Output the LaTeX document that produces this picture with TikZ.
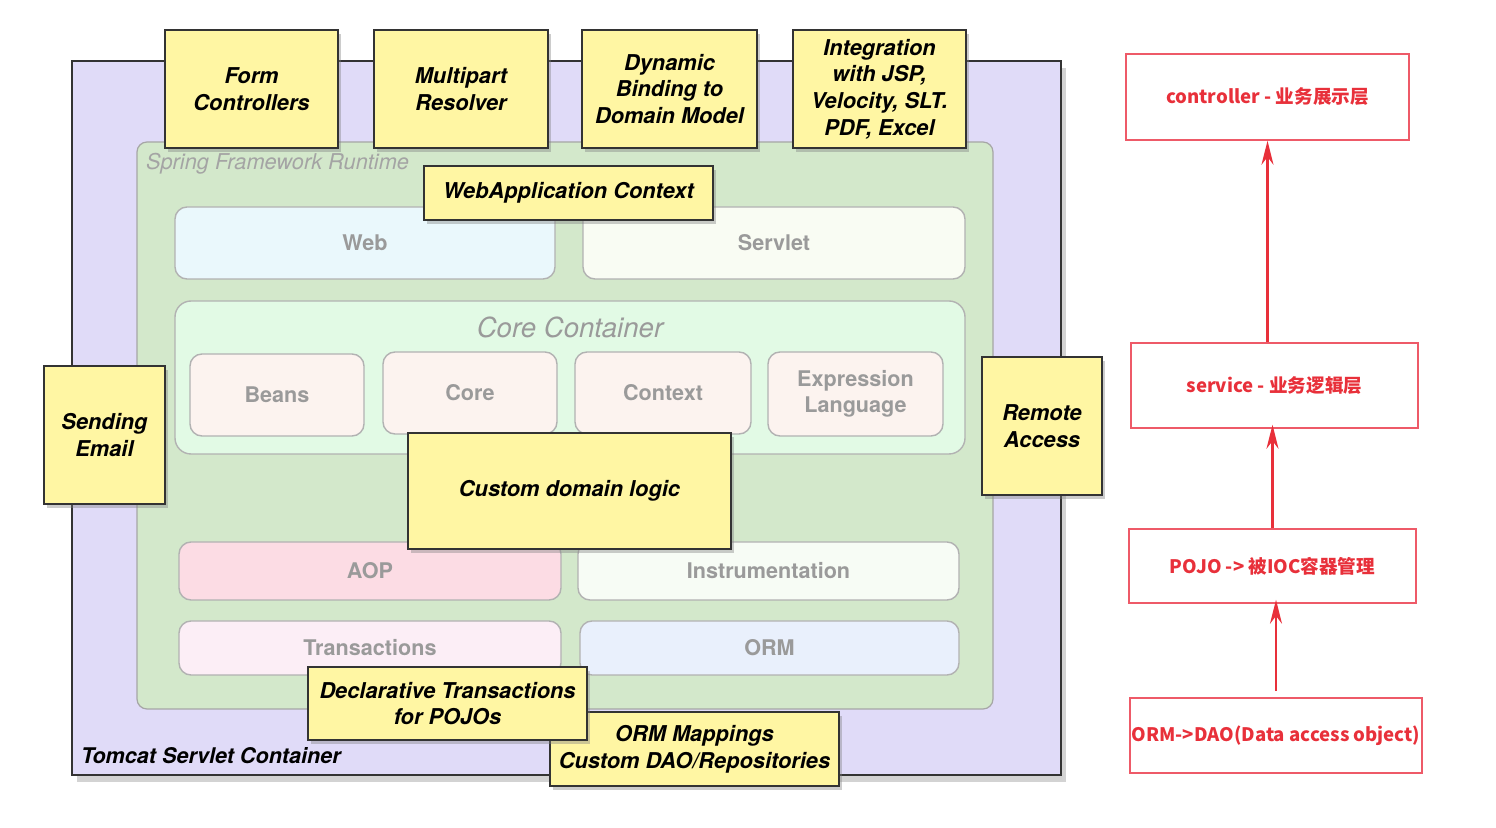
\documentclass[tikz,border=0pt]{standalone}
\usepackage{fontspec}
\setmainfont{TeX Gyre Heros}
\newfontfamily\cjk{Noto Sans CJK SC}
\usetikzlibrary{shadows,arrows.meta}

\definecolor{noteyellow}{HTML}{FFF6A3}
\definecolor{tomcatbg}{HTML}{E0DBF8}
\definecolor{springbg}{HTML}{D3E8CB}
\definecolor{corebg}{HTML}{E2FAE5}
\definecolor{webbg}{HTML}{EAF8FC}
\definecolor{servletbg}{HTML}{F9FCF3}
\definecolor{beanbg}{HTML}{FCF3EF}
\definecolor{aopbg}{HTML}{FCDCE4}
\definecolor{instrbg}{HTML}{F7FCF5}
\definecolor{transbg}{HTML}{FCEEF6}
\definecolor{ormbg}{HTML}{E9F0FC}
\definecolor{modgray}{HTML}{9A9A9A}
\definecolor{arrowred}{HTML}{E8303A}
\definecolor{layerred}{HTML}{EE5A68}

\tikzset{
  corners/.style n args={4}{at={({(#1+#3)/2},{(#2+#4)/2})},
    minimum width={(#3-#1)*0.5pt}, minimum height={(#4-#2)*0.5pt}},
  yellowbox/.style={draw=black!80, line width=0.8pt, fill=noteyellow, inner sep=0pt,
    align=center, font=\fontsize{10.9}{13.3}\selectfont\bfseries\itshape,
    drop shadow={shadow xshift=1.5pt, shadow yshift=-2pt, opacity=0.4}},
  module/.style={draw=black!30, line width=0.7pt, rounded corners=6pt, inner sep=0pt,
    align=center, text=modgray, font=\fontsize{10.8}{13}\selectfont\bfseries},
  layerbox/.style={draw=layerred, line width=0.75pt, inner sep=0pt, text=arrowred,
    font=\cjk\bfseries\fontsize{9.3}{11}\selectfont},
  uparrow/.style={draw=arrowred, line width=1.2pt, -{Stealth[length=12pt,width=6pt]}},
}

\begin{document}
\begin{tikzpicture}[x=0.5pt, y=-0.5pt]
\useasboundingbox (0,0) rectangle (1496,828);

% containers
\node[corners={72}{61}{1061}{775}, draw=black!80, line width=1pt, fill=tomcatbg, inner sep=0pt,
  drop shadow={shadow xshift=2.5pt, shadow yshift=-3.5pt, opacity=0.35}] (tomcat) {};
\node[corners={137}{142}{993}{709}, draw=black!35, line width=0.6pt, fill=springbg,
  rounded corners=5pt, inner sep=0pt] (runtime) {};
\node[anchor=west, text=modgray!90, font=\fontsize{10.9}{13}\selectfont\itshape] (runtimelbl) at (139,164) {Spring Framework Runtime};
\node[anchor=west, font=\fontsize{10.8}{13}\selectfont\bfseries\itshape] (tomcatlbl) at (74,756) {Tomcat Servlet Container};

% modules
\node[module, fill=webbg, corners={175}{207}{555}{279}] (web) {Web};
\node[module, fill=servletbg, corners={583}{207}{965}{279}] (servlet) {Servlet};
\node[module, fill=corebg, rounded corners=8pt, corners={175}{301}{965}{454}] (corecont) {};
\node[text=modgray, font=\fontsize{13.8}{16}\selectfont\itshape] (corelbl) at (570,327) {Core Container};
\node[module, fill=beanbg, corners={190}{354}{364}{436}] (beans) {Beans};
\node[module, fill=beanbg, corners={383}{352}{557}{434}] (core) {Core};
\node[module, fill=beanbg, corners={575}{352}{751}{434}] (context) {Context};
\node[module, fill=beanbg, corners={768}{352}{943}{436}] (expr) {Expression\\Language};
\node[module, fill=aopbg, corners={179}{542}{561}{600}] (aop) {AOP};
\node[module, fill=instrbg, corners={578}{542}{959}{600}] (instr) {Instrumentation};
\node[module, fill=transbg, corners={179}{621}{561}{675}] (trans) {Transactions};
\node[module, fill=ormbg, corners={580}{621}{959}{675}] (orm) {ORM};

% notes
\node[yellowbox, corners={165}{30}{338}{148}] (formctl) {Form\\Controllers};
\node[yellowbox, corners={374}{30}{548}{148}] (multipart) {Multipart\\Resolver};
\node[yellowbox, corners={582}{30}{757}{148}] (binding) {Dynamic\\Binding to\\Domain Model};
\node[yellowbox, corners={793}{30}{966}{148}] (integration) {Integration\\with JSP,\\Velocity, SLT.\\PDF, Excel};
\node[yellowbox, corners={424}{166}{713}{220}] (webctx) {WebApplication Context};
\node[yellowbox, corners={44}{366}{165}{504}] (email) {Sending\\Email};
\node[yellowbox, corners={982}{357}{1102}{495}] (remote) {Remote\\Access};
\node[yellowbox, corners={408}{433}{731}{549}] (domain) {Custom domain logic};
\node[yellowbox, corners={550}{712}{839}{786}] (ormmap) {ORM Mappings\\Custom DAO/Repositories};
\node[yellowbox, corners={308}{667}{587}{740}] (decl) {Declarative Transactions\\for POJOs};

% layers
\node[layerbox, corners={1126}{54}{1409}{140}] (controller) {controller - 业务展示层};
\node[layerbox, corners={1131}{343}{1418}{428}] (service) {service - 业务逻辑层};
\node[layerbox, corners={1129}{529}{1416}{603}] (pojo) {POJO -> 被IOC容器管理};
\node[layerbox, corners={1130}{698}{1422}{773}] (dao) {ORM->DAO(Data access object)};

\draw[uparrow] (service.north -| controller.south) -- (controller.south);
\draw[uparrow, shorten >=-2pt] (pojo.north) -- (pojo.north |- service.south);
\draw[uparrow, shorten <=3pt, shorten >=-2pt] (dao.north) -- (dao.north |- pojo.south);
\end{tikzpicture}
\end{document}
